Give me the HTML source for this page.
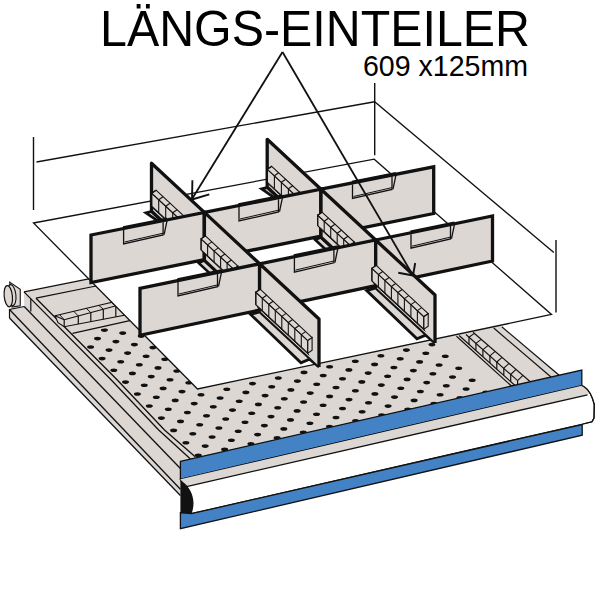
<!DOCTYPE html>
<html><head><meta charset="utf-8"><style>html,body{margin:0;padding:0;background:#fff;}svg{display:block;}</style></head>
<body><svg width="600" height="600" viewBox="0 0 600 600"><polygon points="9.5,318.0 9.5,309.5 24.2,306.5 24.0,291.9 200.0,256.0 480.0,300.0 501.8,326.8 566.0,380.0 182.0,470.0 182.0,496.0 180.4,495.5" fill="#ddd7d4" stroke="none"/>
<defs><clipPath id="fl"><polygon points="78.6,340.0 84.0,332.0 150.0,320.0 197.5,389.0 430.0,340.0 476.0,378.0 495.0,398.0 204.8,470.0"/></clipPath></defs>
<g fill="#111" clip-path="url(#fl)"><ellipse cx="104.4" cy="330.1" rx="3.5" ry="1.8"/><ellipse cx="97.5" cy="338.6" rx="3.5" ry="1.8"/><ellipse cx="90.6" cy="347.0" rx="3.5" ry="1.8"/><ellipse cx="122.7" cy="333.1" rx="3.5" ry="1.8"/><ellipse cx="115.9" cy="341.6" rx="3.5" ry="1.8"/><ellipse cx="109.0" cy="350.1" rx="3.5" ry="1.8"/><ellipse cx="102.1" cy="358.6" rx="3.5" ry="1.8"/><ellipse cx="147.9" cy="327.7" rx="3.5" ry="1.8"/><ellipse cx="141.2" cy="336.1" rx="3.5" ry="1.8"/><ellipse cx="134.4" cy="344.6" rx="3.5" ry="1.8"/><ellipse cx="127.6" cy="353.1" rx="3.5" ry="1.8"/><ellipse cx="120.7" cy="361.7" rx="3.5" ry="1.8"/><ellipse cx="113.8" cy="370.3" rx="3.5" ry="1.8"/><ellipse cx="152.9" cy="347.6" rx="3.5" ry="1.8"/><ellipse cx="146.1" cy="356.2" rx="3.5" ry="1.8"/><ellipse cx="139.3" cy="364.8" rx="3.5" ry="1.8"/><ellipse cx="132.4" cy="373.4" rx="3.5" ry="1.8"/><ellipse cx="125.5" cy="382.1" rx="3.5" ry="1.8"/><ellipse cx="164.8" cy="359.3" rx="3.5" ry="1.8"/><ellipse cx="158.0" cy="367.9" rx="3.5" ry="1.8"/><ellipse cx="151.2" cy="376.6" rx="3.5" ry="1.8"/><ellipse cx="144.3" cy="385.3" rx="3.5" ry="1.8"/><ellipse cx="137.4" cy="394.0" rx="3.5" ry="1.8"/><ellipse cx="176.8" cy="371.0" rx="3.5" ry="1.8"/><ellipse cx="170.0" cy="379.7" rx="3.5" ry="1.8"/><ellipse cx="163.1" cy="388.4" rx="3.5" ry="1.8"/><ellipse cx="156.3" cy="397.2" rx="3.5" ry="1.8"/><ellipse cx="149.3" cy="406.0" rx="3.5" ry="1.8"/><ellipse cx="188.8" cy="382.8" rx="3.5" ry="1.8"/><ellipse cx="182.0" cy="391.6" rx="3.5" ry="1.8"/><ellipse cx="175.2" cy="400.4" rx="3.5" ry="1.8"/><ellipse cx="168.3" cy="409.3" rx="3.5" ry="1.8"/><ellipse cx="161.4" cy="418.1" rx="3.5" ry="1.8"/><ellipse cx="201.0" cy="394.8" rx="3.5" ry="1.8"/><ellipse cx="194.2" cy="403.6" rx="3.5" ry="1.8"/><ellipse cx="187.4" cy="412.5" rx="3.5" ry="1.8"/><ellipse cx="180.5" cy="421.4" rx="3.5" ry="1.8"/><ellipse cx="173.6" cy="430.4" rx="3.5" ry="1.8"/><ellipse cx="226.8" cy="389.2" rx="3.5" ry="1.8"/><ellipse cx="220.1" cy="398.0" rx="3.5" ry="1.8"/><ellipse cx="213.3" cy="406.8" rx="3.5" ry="1.8"/><ellipse cx="206.5" cy="415.7" rx="3.5" ry="1.8"/><ellipse cx="199.7" cy="424.7" rx="3.5" ry="1.8"/><ellipse cx="192.8" cy="433.7" rx="3.5" ry="1.8"/><ellipse cx="185.9" cy="442.7" rx="3.5" ry="1.8"/><ellipse cx="252.5" cy="383.6" rx="3.5" ry="1.8"/><ellipse cx="245.9" cy="392.4" rx="3.5" ry="1.8"/><ellipse cx="239.2" cy="401.2" rx="3.5" ry="1.8"/><ellipse cx="232.5" cy="410.1" rx="3.5" ry="1.8"/><ellipse cx="225.7" cy="419.0" rx="3.5" ry="1.8"/><ellipse cx="218.9" cy="428.0" rx="3.5" ry="1.8"/><ellipse cx="212.1" cy="437.0" rx="3.5" ry="1.8"/><ellipse cx="205.2" cy="446.1" rx="3.5" ry="1.8"/><ellipse cx="198.3" cy="455.2" rx="3.5" ry="1.8"/><ellipse cx="278.3" cy="378.0" rx="3.5" ry="1.8"/><ellipse cx="271.7" cy="386.8" rx="3.5" ry="1.8"/><ellipse cx="265.1" cy="395.6" rx="3.5" ry="1.8"/><ellipse cx="258.4" cy="404.4" rx="3.5" ry="1.8"/><ellipse cx="251.7" cy="413.3" rx="3.5" ry="1.8"/><ellipse cx="245.0" cy="422.3" rx="3.5" ry="1.8"/><ellipse cx="238.2" cy="431.3" rx="3.5" ry="1.8"/><ellipse cx="231.4" cy="440.3" rx="3.5" ry="1.8"/><ellipse cx="224.6" cy="449.4" rx="3.5" ry="1.8"/><ellipse cx="217.7" cy="458.6" rx="3.5" ry="1.8"/><ellipse cx="304.0" cy="372.4" rx="3.5" ry="1.8"/><ellipse cx="297.4" cy="381.1" rx="3.5" ry="1.8"/><ellipse cx="290.9" cy="389.9" rx="3.5" ry="1.8"/><ellipse cx="284.3" cy="398.8" rx="3.5" ry="1.8"/><ellipse cx="277.7" cy="407.7" rx="3.5" ry="1.8"/><ellipse cx="271.0" cy="416.6" rx="3.5" ry="1.8"/><ellipse cx="264.4" cy="425.6" rx="3.5" ry="1.8"/><ellipse cx="257.6" cy="434.6" rx="3.5" ry="1.8"/><ellipse cx="250.9" cy="443.7" rx="3.5" ry="1.8"/><ellipse cx="244.1" cy="452.8" rx="3.5" ry="1.8"/><ellipse cx="329.6" cy="366.8" rx="3.5" ry="1.8"/><ellipse cx="323.2" cy="375.5" rx="3.5" ry="1.8"/><ellipse cx="316.7" cy="384.3" rx="3.5" ry="1.8"/><ellipse cx="310.2" cy="393.1" rx="3.5" ry="1.8"/><ellipse cx="303.6" cy="402.0" rx="3.5" ry="1.8"/><ellipse cx="297.1" cy="410.9" rx="3.5" ry="1.8"/><ellipse cx="290.5" cy="419.9" rx="3.5" ry="1.8"/><ellipse cx="283.8" cy="428.9" rx="3.5" ry="1.8"/><ellipse cx="277.1" cy="437.9" rx="3.5" ry="1.8"/><ellipse cx="270.4" cy="447.0" rx="3.5" ry="1.8"/><ellipse cx="355.3" cy="361.2" rx="3.5" ry="1.8"/><ellipse cx="348.9" cy="369.9" rx="3.5" ry="1.8"/><ellipse cx="342.5" cy="378.7" rx="3.5" ry="1.8"/><ellipse cx="336.0" cy="387.5" rx="3.5" ry="1.8"/><ellipse cx="329.6" cy="396.4" rx="3.5" ry="1.8"/><ellipse cx="323.1" cy="405.2" rx="3.5" ry="1.8"/><ellipse cx="316.5" cy="414.2" rx="3.5" ry="1.8"/><ellipse cx="309.9" cy="423.2" rx="3.5" ry="1.8"/><ellipse cx="303.3" cy="432.2" rx="3.5" ry="1.8"/><ellipse cx="296.7" cy="441.3" rx="3.5" ry="1.8"/><ellipse cx="380.9" cy="355.7" rx="3.5" ry="1.8"/><ellipse cx="374.6" cy="364.4" rx="3.5" ry="1.8"/><ellipse cx="368.2" cy="373.1" rx="3.5" ry="1.8"/><ellipse cx="361.8" cy="381.9" rx="3.5" ry="1.8"/><ellipse cx="355.4" cy="390.7" rx="3.5" ry="1.8"/><ellipse cx="349.0" cy="399.6" rx="3.5" ry="1.8"/><ellipse cx="342.5" cy="408.5" rx="3.5" ry="1.8"/><ellipse cx="336.0" cy="417.5" rx="3.5" ry="1.8"/><ellipse cx="329.5" cy="426.5" rx="3.5" ry="1.8"/><ellipse cx="322.9" cy="435.5" rx="3.5" ry="1.8"/><ellipse cx="406.4" cy="350.1" rx="3.5" ry="1.8"/><ellipse cx="400.2" cy="358.8" rx="3.5" ry="1.8"/><ellipse cx="393.9" cy="367.5" rx="3.5" ry="1.8"/><ellipse cx="387.6" cy="376.3" rx="3.5" ry="1.8"/><ellipse cx="381.3" cy="385.1" rx="3.5" ry="1.8"/><ellipse cx="374.9" cy="393.9" rx="3.5" ry="1.8"/><ellipse cx="368.5" cy="402.8" rx="3.5" ry="1.8"/><ellipse cx="362.1" cy="411.8" rx="3.5" ry="1.8"/><ellipse cx="355.6" cy="420.8" rx="3.5" ry="1.8"/><ellipse cx="349.1" cy="429.8" rx="3.5" ry="1.8"/><ellipse cx="432.0" cy="344.6" rx="3.5" ry="1.8"/><ellipse cx="425.8" cy="353.2" rx="3.5" ry="1.8"/><ellipse cx="419.6" cy="361.9" rx="3.5" ry="1.8"/><ellipse cx="413.4" cy="370.6" rx="3.5" ry="1.8"/><ellipse cx="407.1" cy="379.4" rx="3.5" ry="1.8"/><ellipse cx="400.8" cy="388.3" rx="3.5" ry="1.8"/><ellipse cx="394.5" cy="397.1" rx="3.5" ry="1.8"/><ellipse cx="388.1" cy="406.1" rx="3.5" ry="1.8"/><ellipse cx="381.7" cy="415.0" rx="3.5" ry="1.8"/><ellipse cx="375.3" cy="424.1" rx="3.5" ry="1.8"/><ellipse cx="445.3" cy="356.3" rx="3.5" ry="1.8"/><ellipse cx="439.1" cy="365.0" rx="3.5" ry="1.8"/><ellipse cx="432.9" cy="373.8" rx="3.5" ry="1.8"/><ellipse cx="426.7" cy="382.6" rx="3.5" ry="1.8"/><ellipse cx="420.4" cy="391.5" rx="3.5" ry="1.8"/><ellipse cx="414.1" cy="400.4" rx="3.5" ry="1.8"/><ellipse cx="407.8" cy="409.3" rx="3.5" ry="1.8"/><ellipse cx="401.5" cy="418.3" rx="3.5" ry="1.8"/><ellipse cx="458.7" cy="368.2" rx="3.5" ry="1.8"/><ellipse cx="452.5" cy="377.0" rx="3.5" ry="1.8"/><ellipse cx="446.3" cy="385.8" rx="3.5" ry="1.8"/><ellipse cx="440.1" cy="394.7" rx="3.5" ry="1.8"/><ellipse cx="433.9" cy="403.6" rx="3.5" ry="1.8"/><ellipse cx="427.6" cy="412.6" rx="3.5" ry="1.8"/><ellipse cx="472.2" cy="380.2" rx="3.5" ry="1.8"/><ellipse cx="466.1" cy="389.0" rx="3.5" ry="1.8"/><ellipse cx="459.9" cy="397.9" rx="3.5" ry="1.8"/><ellipse cx="485.9" cy="392.3" rx="3.5" ry="1.8"/></g>
<line x1="9.5" y1="318.0" x2="180.4" y2="495.5" stroke="#111" stroke-width="1.3"/>
<line x1="9.5" y1="309.5" x2="180.4" y2="489.2" stroke="#111" stroke-width="1.3"/>
<line x1="24.2" y1="306.5" x2="180.4" y2="468.5" stroke="#111" stroke-width="1.3"/>
<polyline points="24.0,291.9 111.3,380.0 158.7,430.0 191.0,459.5" fill="none" stroke="#111" stroke-width="1.3" stroke-linejoin="miter"/>
<polyline points="36.0,298.2 117.3,380.0 164.5,430.0 195.5,457.0" fill="none" stroke="#111" stroke-width="1.3" stroke-linejoin="miter"/>
<polyline points="9.5,318.0 9.5,309.5 24.2,306.5" fill="none" stroke="#111" stroke-width="1.2" stroke-linejoin="miter"/>
<line x1="24.0" y1="291.9" x2="90.0" y2="278.7" stroke="#111" stroke-width="1.2"/>
<line x1="36.0" y1="298.2" x2="96.0" y2="286.0" stroke="#111" stroke-width="1.2"/>
<line x1="30.8" y1="299.0" x2="30.8" y2="311.5" stroke="#111" stroke-width="1.2"/>
<polygon points="55.0,315.8 145.0,294.4 145.0,311.3 64.2,326.7 58.0,322.7" fill="#ddd7d4" stroke="#111" stroke-width="1.1" stroke-linejoin="miter"/>
<line x1="64.2" y1="319.8" x2="145.0" y2="298.0" stroke="#111" stroke-width="1.1"/>
<line x1="55.0" y1="315.8" x2="64.2" y2="319.8" stroke="#111" stroke-width="1.1"/>
<line x1="64.2" y1="319.8" x2="64.2" y2="326.7" stroke="#111" stroke-width="1.2"/>
<line x1="64.2" y1="319.8" x2="59.7" y2="314.7" stroke="#111" stroke-width="1.0"/>
<line x1="78.3" y1="316.0" x2="78.3" y2="324.0" stroke="#111" stroke-width="1.2"/>
<line x1="78.3" y1="316.0" x2="73.8" y2="311.3" stroke="#111" stroke-width="1.0"/>
<line x1="90.8" y1="312.6" x2="90.8" y2="321.6" stroke="#111" stroke-width="1.2"/>
<line x1="90.8" y1="312.6" x2="86.3" y2="308.4" stroke="#111" stroke-width="1.0"/>
<line x1="103.3" y1="309.2" x2="103.3" y2="319.3" stroke="#111" stroke-width="1.2"/>
<line x1="103.3" y1="309.2" x2="98.8" y2="305.4" stroke="#111" stroke-width="1.0"/>
<line x1="115.8" y1="305.9" x2="115.8" y2="316.9" stroke="#111" stroke-width="1.2"/>
<line x1="115.8" y1="305.9" x2="111.3" y2="302.4" stroke="#111" stroke-width="1.0"/>
<line x1="128.3" y1="302.5" x2="128.3" y2="314.5" stroke="#111" stroke-width="1.2"/>
<line x1="128.3" y1="302.5" x2="123.8" y2="299.4" stroke="#111" stroke-width="1.0"/>
<line x1="72.5" y1="333.3" x2="150.0" y2="316.2" stroke="#111" stroke-width="1.2"/>
<path d="M9.75,282.1 L20.25,289.25 L20.25,305.75 L12,307 Z" fill="#ddd7d4" stroke="#111" stroke-width="1.1"/>
<ellipse cx="11.6" cy="295.2" rx="4.3" ry="10.6" fill="#ddd7d4" stroke="#111" stroke-width="1.1" transform="rotate(-6 11.6 295.2)"/>
<ellipse cx="8.3" cy="296.2" rx="4.1" ry="10.7" fill="#ddd7d4" stroke="#111" stroke-width="1.2" transform="rotate(-6 8.3 296.2)"/>
<line x1="456.5" y1="336.2" x2="512.0" y2="386.5" stroke="#111" stroke-width="1.2"/>
<line x1="459.1" y1="335.5" x2="515.0" y2="385.5" stroke="#111" stroke-width="1.2"/>
<line x1="473.0" y1="332.3" x2="530.0" y2="381.5" stroke="#111" stroke-width="1.2"/>
<line x1="493.7" y1="328.0" x2="551.0" y2="377.0" stroke="#111" stroke-width="1.2"/>
<line x1="501.8" y1="326.8" x2="560.0" y2="376.0" stroke="#111" stroke-width="1.2"/>
<line x1="469.0" y1="337.2" x2="469.0" y2="344.4" stroke="#111" stroke-width="1.2"/>
<line x1="469.0" y1="337.2" x2="474.3" y2="333.4" stroke="#111" stroke-width="1.1"/>
<line x1="475.9" y1="343.4" x2="475.9" y2="350.6" stroke="#111" stroke-width="1.2"/>
<line x1="475.9" y1="343.4" x2="481.2" y2="339.4" stroke="#111" stroke-width="1.1"/>
<line x1="482.9" y1="349.6" x2="482.9" y2="356.8" stroke="#111" stroke-width="1.2"/>
<line x1="482.9" y1="349.6" x2="488.2" y2="345.4" stroke="#111" stroke-width="1.1"/>
<line x1="489.9" y1="355.8" x2="489.9" y2="363.0" stroke="#111" stroke-width="1.2"/>
<line x1="489.9" y1="355.8" x2="495.2" y2="351.4" stroke="#111" stroke-width="1.1"/>
<line x1="496.8" y1="362.0" x2="496.8" y2="369.2" stroke="#111" stroke-width="1.2"/>
<line x1="496.8" y1="362.0" x2="502.1" y2="357.4" stroke="#111" stroke-width="1.1"/>
<line x1="503.8" y1="368.2" x2="503.8" y2="375.4" stroke="#111" stroke-width="1.2"/>
<line x1="503.8" y1="368.2" x2="509.1" y2="363.4" stroke="#111" stroke-width="1.1"/>
<line x1="510.7" y1="374.5" x2="510.7" y2="381.7" stroke="#111" stroke-width="1.2"/>
<line x1="510.7" y1="374.5" x2="516.0" y2="369.4" stroke="#111" stroke-width="1.1"/>
<line x1="517.6" y1="380.7" x2="517.6" y2="387.9" stroke="#111" stroke-width="1.2"/>
<line x1="517.6" y1="380.7" x2="522.9" y2="375.4" stroke="#111" stroke-width="1.1"/>
<line x1="466.0" y1="334.5" x2="517.6" y2="380.7" stroke="#111" stroke-width="1.1"/>
<polygon points="33.5,223.0 374.2,159.2 551.5,314.5 197.5,389.0" fill="#fff" stroke="#111" stroke-width="1.3" stroke-linejoin="miter"/>
<polygon points="180.4,461.3 581.8,370.0 581.8,385.8 180.4,479.3" fill="#4482c6" stroke="#111" stroke-width="1.3" stroke-linejoin="miter"/>
<path d="M180.4,479.3 L581.8,385.75 L583.75,386.5 Q591,391 594.25,404.5 L594,418 L592,421.75 L583,424 L191.3,513.7 L183.3,487.3 Z" fill="#fff" stroke="#111" stroke-width="1.2"/>
<polygon points="180.4,479.3 581.8,385.8 583.8,386.5 589.0,392.5 587.5,394.8 183.3,487.3" fill="#ddd7d4" stroke="none"/>
<line x1="183.3" y1="487.3" x2="587.5" y2="394.8" stroke="#111" stroke-width="1.3"/>
<path d="M581.8,385.75 L583.75,386.5 Q591,391 594.25,404.5 L594,418 L592,421.75 L583,424" fill="none" stroke="#111" stroke-width="1.2"/>
<polygon points="180.4,512.7 191.3,513.7 582.2,424.5 582.2,435.2 180.4,528.7" fill="#4482c6" stroke="#111" stroke-width="1.3" stroke-linejoin="miter"/>
<path d="M180.4,479.5 L183.5,482.5 C192,489 196.5,502 191.3,514 L180.4,513 Z" fill="#111"/>
<line x1="33.5" y1="137.0" x2="33.5" y2="210.0" stroke="#111" stroke-width="1.4"/>
<line x1="36.5" y1="162.0" x2="374.7" y2="101.7" stroke="#111" stroke-width="1.4"/>
<line x1="374.7" y1="83.0" x2="374.7" y2="155.3" stroke="#111" stroke-width="1.4"/>
<line x1="374.7" y1="101.7" x2="553.8" y2="252.5" stroke="#111" stroke-width="1.4"/>
<line x1="556.0" y1="240.0" x2="556.0" y2="312.5" stroke="#111" stroke-width="1.4"/>
<polygon points="146.0,212.8 152.5,211.2 169.5,220.7 162.5,224.2" fill="#ddd7d4" stroke="#111" stroke-width="2.8" stroke-linejoin="miter"/>
<polygon points="151.5,163.2 204.4,212.4 204.4,260.4 151.5,211.2" fill="#ddd7d4" stroke="#111" stroke-width="3.3" stroke-linejoin="round"/>
<polygon points="151.7,193.2 179.7,219.2 179.7,232.2 151.7,206.2" fill="#ddd7d4" stroke="#111" stroke-width="1.1" stroke-linejoin="miter"/>
<polygon points="156.0,190.2 184.0,216.2 179.7,219.2 151.7,193.2" fill="#ddd7d4" stroke="#111" stroke-width="1.1" stroke-linejoin="miter"/>
<line x1="151.7" y1="193.2" x2="151.7" y2="206.2" stroke="#111" stroke-width="1.1"/>
<line x1="156.0" y1="190.2" x2="151.7" y2="193.2" stroke="#111" stroke-width="1.1"/>
<line x1="158.7" y1="199.7" x2="158.7" y2="212.7" stroke="#111" stroke-width="1.1"/>
<line x1="163.0" y1="196.7" x2="158.7" y2="199.7" stroke="#111" stroke-width="1.1"/>
<line x1="165.7" y1="206.2" x2="165.7" y2="219.2" stroke="#111" stroke-width="1.1"/>
<line x1="170.0" y1="203.2" x2="165.7" y2="206.2" stroke="#111" stroke-width="1.1"/>
<line x1="172.7" y1="212.7" x2="172.7" y2="225.7" stroke="#111" stroke-width="1.1"/>
<line x1="177.0" y1="209.7" x2="172.7" y2="212.7" stroke="#111" stroke-width="1.1"/>
<line x1="179.7" y1="219.2" x2="179.7" y2="232.2" stroke="#111" stroke-width="1.1"/>
<line x1="184.0" y1="216.2" x2="179.7" y2="219.2" stroke="#111" stroke-width="1.1"/>
<polygon points="179.7,219.2 184.0,216.2 184.0,229.2 179.7,232.2" fill="#ddd7d4" stroke="#111" stroke-width="1.1" stroke-linejoin="miter"/>
<line x1="153.2" y1="208.4" x2="181.2" y2="234.4" stroke="#111" stroke-width="1.0"/>
<polygon points="261.7,188.9 268.2,187.3 285.2,196.8 278.2,200.3" fill="#ddd7d4" stroke="#111" stroke-width="2.8" stroke-linejoin="miter"/>
<polygon points="267.2,139.3 321.0,189.2 321.0,237.2 267.2,187.3" fill="#ddd7d4" stroke="#111" stroke-width="3.3" stroke-linejoin="round"/>
<polygon points="267.4,169.3 295.4,195.3 295.4,208.3 267.4,182.3" fill="#ddd7d4" stroke="#111" stroke-width="1.1" stroke-linejoin="miter"/>
<polygon points="271.7,166.3 299.7,192.3 295.4,195.3 267.4,169.3" fill="#ddd7d4" stroke="#111" stroke-width="1.1" stroke-linejoin="miter"/>
<line x1="267.4" y1="169.3" x2="267.4" y2="182.3" stroke="#111" stroke-width="1.1"/>
<line x1="271.7" y1="166.3" x2="267.4" y2="169.3" stroke="#111" stroke-width="1.1"/>
<line x1="274.4" y1="175.8" x2="274.4" y2="188.8" stroke="#111" stroke-width="1.1"/>
<line x1="278.7" y1="172.8" x2="274.4" y2="175.8" stroke="#111" stroke-width="1.1"/>
<line x1="281.4" y1="182.3" x2="281.4" y2="195.3" stroke="#111" stroke-width="1.1"/>
<line x1="285.7" y1="179.3" x2="281.4" y2="182.3" stroke="#111" stroke-width="1.1"/>
<line x1="288.4" y1="188.8" x2="288.4" y2="201.8" stroke="#111" stroke-width="1.1"/>
<line x1="292.7" y1="185.8" x2="288.4" y2="188.8" stroke="#111" stroke-width="1.1"/>
<line x1="295.4" y1="195.3" x2="295.4" y2="208.3" stroke="#111" stroke-width="1.1"/>
<line x1="299.7" y1="192.3" x2="295.4" y2="195.3" stroke="#111" stroke-width="1.1"/>
<polygon points="295.4,195.3 299.7,192.3 299.7,205.3 295.4,208.3" fill="#ddd7d4" stroke="#111" stroke-width="1.1" stroke-linejoin="miter"/>
<line x1="268.9" y1="184.5" x2="296.9" y2="210.5" stroke="#111" stroke-width="1.0"/>
<polygon points="91.0,235.0 204.4,212.4 204.4,259.7 91.0,282.5" fill="#ddd7d4" stroke="#111" stroke-width="3.3" stroke-linejoin="miter"/>
<line x1="123.1" y1="227.8" x2="167.1" y2="219.1" stroke="#111" stroke-width="3.2"/>
<polyline points="123.6,230.0 123.6,244.0 163.1,235.0 163.1,222.2" fill="none" stroke="#111" stroke-width="1.3" stroke-linejoin="miter"/>
<polyline points="124.6,242.0 163.1,233.2" fill="none" stroke="#111" stroke-width="1.0" stroke-linejoin="miter"/>
<polyline points="167.1,220.4 164.1,234.7" fill="none" stroke="#111" stroke-width="1.3" stroke-linejoin="miter"/>
<polygon points="204.4,212.4 321.0,189.2 321.0,236.2 204.4,259.7" fill="#ddd7d4" stroke="#111" stroke-width="3.3" stroke-linejoin="miter"/>
<line x1="238.5" y1="204.8" x2="282.5" y2="196.1" stroke="#111" stroke-width="3.2"/>
<polyline points="239.0,207.0 239.0,221.0 278.5,212.0 278.5,199.2" fill="none" stroke="#111" stroke-width="1.3" stroke-linejoin="miter"/>
<polyline points="240.0,219.0 278.5,210.2" fill="none" stroke="#111" stroke-width="1.0" stroke-linejoin="miter"/>
<polyline points="282.5,197.4 279.5,211.7" fill="none" stroke="#111" stroke-width="1.3" stroke-linejoin="miter"/>
<polygon points="321.0,189.2 433.7,166.8 433.7,213.5 321.0,236.2" fill="#ddd7d4" stroke="#111" stroke-width="3.3" stroke-linejoin="miter"/>
<line x1="352.0" y1="182.3" x2="396.0" y2="173.5" stroke="#111" stroke-width="3.2"/>
<polyline points="352.5,184.5 352.5,198.5 392.0,189.4 392.0,176.6" fill="none" stroke="#111" stroke-width="1.3" stroke-linejoin="miter"/>
<polyline points="353.5,196.5 392.0,187.6" fill="none" stroke="#111" stroke-width="1.0" stroke-linejoin="miter"/>
<polyline points="396.0,174.8 393.0,189.1" fill="none" stroke="#111" stroke-width="1.3" stroke-linejoin="miter"/>
<polygon points="204.4,260.4 259.6,311.8 253.8,314.4 198.6,263.0" fill="#ddd7d4" stroke="#111" stroke-width="2.6" stroke-linejoin="miter"/>
<polygon points="204.4,212.4 259.6,263.8 259.6,311.8 204.4,260.4" fill="#ddd7d4" stroke="#111" stroke-width="3.3" stroke-linejoin="round"/>
<polygon points="201.1,238.9 233.6,269.1 233.6,280.1 201.1,249.9" fill="#ddd7d4" stroke="#111" stroke-width="1.1" stroke-linejoin="miter"/>
<polygon points="205.4,235.9 237.9,266.1 233.6,269.1 201.1,238.9" fill="#ddd7d4" stroke="#111" stroke-width="1.1" stroke-linejoin="miter"/>
<line x1="201.1" y1="238.9" x2="201.1" y2="249.9" stroke="#111" stroke-width="1.1"/>
<line x1="205.4" y1="235.9" x2="201.1" y2="238.9" stroke="#111" stroke-width="1.1"/>
<line x1="207.6" y1="244.9" x2="207.6" y2="255.9" stroke="#111" stroke-width="1.1"/>
<line x1="211.9" y1="241.9" x2="207.6" y2="244.9" stroke="#111" stroke-width="1.1"/>
<line x1="214.1" y1="250.9" x2="214.1" y2="261.9" stroke="#111" stroke-width="1.1"/>
<line x1="218.4" y1="247.9" x2="214.1" y2="250.9" stroke="#111" stroke-width="1.1"/>
<line x1="220.6" y1="257.0" x2="220.6" y2="268.0" stroke="#111" stroke-width="1.1"/>
<line x1="224.9" y1="254.0" x2="220.6" y2="257.0" stroke="#111" stroke-width="1.1"/>
<line x1="227.1" y1="263.0" x2="227.1" y2="274.0" stroke="#111" stroke-width="1.1"/>
<line x1="231.4" y1="260.0" x2="227.1" y2="263.0" stroke="#111" stroke-width="1.1"/>
<line x1="233.6" y1="269.1" x2="233.6" y2="280.1" stroke="#111" stroke-width="1.1"/>
<line x1="237.9" y1="266.1" x2="233.6" y2="269.1" stroke="#111" stroke-width="1.1"/>
<polygon points="233.6,269.1 237.9,266.1 237.9,277.1 233.6,280.1" fill="#ddd7d4" stroke="#111" stroke-width="1.1" stroke-linejoin="miter"/>
<line x1="202.6" y1="252.1" x2="235.1" y2="282.3" stroke="#111" stroke-width="1.0"/>
<polygon points="321.0,237.2 375.7,288.0 369.9,290.6 315.2,239.8" fill="#ddd7d4" stroke="#111" stroke-width="2.6" stroke-linejoin="miter"/>
<polygon points="321.0,189.2 375.7,240.0 375.7,288.0 321.0,237.2" fill="#ddd7d4" stroke="#111" stroke-width="3.3" stroke-linejoin="round"/>
<polygon points="317.7,215.2 350.2,245.3 350.2,255.8 317.7,225.7" fill="#ddd7d4" stroke="#111" stroke-width="1.1" stroke-linejoin="miter"/>
<polygon points="322.0,212.2 354.5,242.3 350.2,245.3 317.7,215.2" fill="#ddd7d4" stroke="#111" stroke-width="1.1" stroke-linejoin="miter"/>
<line x1="317.7" y1="215.2" x2="317.7" y2="225.7" stroke="#111" stroke-width="1.1"/>
<line x1="322.0" y1="212.2" x2="317.7" y2="215.2" stroke="#111" stroke-width="1.1"/>
<line x1="324.2" y1="221.2" x2="324.2" y2="231.7" stroke="#111" stroke-width="1.1"/>
<line x1="328.5" y1="218.2" x2="324.2" y2="221.2" stroke="#111" stroke-width="1.1"/>
<line x1="330.7" y1="227.2" x2="330.7" y2="237.7" stroke="#111" stroke-width="1.1"/>
<line x1="335.0" y1="224.2" x2="330.7" y2="227.2" stroke="#111" stroke-width="1.1"/>
<line x1="337.2" y1="233.2" x2="337.2" y2="243.7" stroke="#111" stroke-width="1.1"/>
<line x1="341.5" y1="230.2" x2="337.2" y2="233.2" stroke="#111" stroke-width="1.1"/>
<line x1="343.7" y1="239.3" x2="343.7" y2="249.8" stroke="#111" stroke-width="1.1"/>
<line x1="348.0" y1="236.3" x2="343.7" y2="239.3" stroke="#111" stroke-width="1.1"/>
<line x1="350.2" y1="245.3" x2="350.2" y2="255.8" stroke="#111" stroke-width="1.1"/>
<line x1="354.5" y1="242.3" x2="350.2" y2="245.3" stroke="#111" stroke-width="1.1"/>
<polygon points="350.2,245.3 354.5,242.3 354.5,252.8 350.2,255.8" fill="#ddd7d4" stroke="#111" stroke-width="1.1" stroke-linejoin="miter"/>
<line x1="319.2" y1="227.9" x2="351.7" y2="258.0" stroke="#111" stroke-width="1.0"/>
<polygon points="140.0,288.3 259.6,263.8 259.6,310.1 140.0,335.3" fill="#ddd7d4" stroke="#111" stroke-width="3.3" stroke-linejoin="miter"/>
<line x1="177.5" y1="279.8" x2="221.5" y2="270.8" stroke="#111" stroke-width="3.2"/>
<polyline points="178.0,282.0 178.0,296.0 217.5,286.7 217.5,273.9" fill="none" stroke="#111" stroke-width="1.3" stroke-linejoin="miter"/>
<polyline points="179.0,294.0 217.5,284.9" fill="none" stroke="#111" stroke-width="1.0" stroke-linejoin="miter"/>
<polyline points="221.5,272.1 218.5,286.4" fill="none" stroke="#111" stroke-width="1.3" stroke-linejoin="miter"/>
<polygon points="259.6,263.8 375.7,240.0 375.7,285.6 259.6,310.1" fill="#ddd7d4" stroke="#111" stroke-width="3.3" stroke-linejoin="miter"/>
<line x1="293.9" y1="255.9" x2="337.9" y2="246.9" stroke="#111" stroke-width="3.2"/>
<polyline points="294.4,258.1 294.4,272.1 333.9,262.8 333.9,250.0" fill="none" stroke="#111" stroke-width="1.3" stroke-linejoin="miter"/>
<polyline points="295.4,270.1 333.9,261.0" fill="none" stroke="#111" stroke-width="1.0" stroke-linejoin="miter"/>
<polyline points="337.9,248.2 334.9,262.5" fill="none" stroke="#111" stroke-width="1.3" stroke-linejoin="miter"/>
<polygon points="375.7,240.0 492.5,216.0 492.5,261.0 375.7,285.6" fill="#ddd7d4" stroke="#111" stroke-width="3.3" stroke-linejoin="miter"/>
<line x1="410.5" y1="232.0" x2="454.5" y2="223.0" stroke="#111" stroke-width="3.2"/>
<polyline points="411.0,234.2 411.0,248.2 450.5,238.9 450.5,226.1" fill="none" stroke="#111" stroke-width="1.3" stroke-linejoin="miter"/>
<polyline points="412.0,246.2 450.5,237.1" fill="none" stroke="#111" stroke-width="1.0" stroke-linejoin="miter"/>
<polyline points="454.5,224.3 451.5,238.6" fill="none" stroke="#111" stroke-width="1.3" stroke-linejoin="miter"/>
<polygon points="259.6,311.8 250.6,314.4 301.0,362.8 309.5,359.2 319.0,367.0" fill="#ddd7d4" stroke="#111" stroke-width="2.8" stroke-linejoin="miter"/>
<polygon points="259.6,263.8 319.0,319.0 319.0,367.0 259.6,311.8" fill="#ddd7d4" stroke="none"/>
<line x1="259.6" y1="311.8" x2="319.0" y2="367.0" stroke="#111" stroke-width="1.3"/>
<polyline points="259.6,311.8 259.6,263.8 319.0,319.0 319.0,367.0" fill="none" stroke="#111" stroke-width="3.3" stroke-linejoin="round"/>
<polygon points="255.8,292.2 307.8,340.6 307.8,353.1 255.8,304.7" fill="#ddd7d4" stroke="#111" stroke-width="1.1" stroke-linejoin="miter"/>
<polygon points="260.1,289.2 312.1,337.6 307.8,340.6 255.8,292.2" fill="#ddd7d4" stroke="#111" stroke-width="1.1" stroke-linejoin="miter"/>
<line x1="255.8" y1="292.2" x2="255.8" y2="304.7" stroke="#111" stroke-width="1.1"/>
<line x1="260.1" y1="289.2" x2="255.8" y2="292.2" stroke="#111" stroke-width="1.1"/>
<line x1="262.3" y1="298.3" x2="262.3" y2="310.8" stroke="#111" stroke-width="1.1"/>
<line x1="266.6" y1="295.3" x2="262.3" y2="298.3" stroke="#111" stroke-width="1.1"/>
<line x1="268.8" y1="304.3" x2="268.8" y2="316.8" stroke="#111" stroke-width="1.1"/>
<line x1="273.1" y1="301.3" x2="268.8" y2="304.3" stroke="#111" stroke-width="1.1"/>
<line x1="275.3" y1="310.4" x2="275.3" y2="322.9" stroke="#111" stroke-width="1.1"/>
<line x1="279.6" y1="307.4" x2="275.3" y2="310.4" stroke="#111" stroke-width="1.1"/>
<line x1="281.8" y1="316.4" x2="281.8" y2="328.9" stroke="#111" stroke-width="1.1"/>
<line x1="286.1" y1="313.4" x2="281.8" y2="316.4" stroke="#111" stroke-width="1.1"/>
<line x1="288.3" y1="322.5" x2="288.3" y2="335.0" stroke="#111" stroke-width="1.1"/>
<line x1="292.6" y1="319.5" x2="288.3" y2="322.5" stroke="#111" stroke-width="1.1"/>
<line x1="294.8" y1="328.5" x2="294.8" y2="341.0" stroke="#111" stroke-width="1.1"/>
<line x1="299.1" y1="325.5" x2="294.8" y2="328.5" stroke="#111" stroke-width="1.1"/>
<line x1="301.3" y1="334.6" x2="301.3" y2="347.1" stroke="#111" stroke-width="1.1"/>
<line x1="305.6" y1="331.6" x2="301.3" y2="334.6" stroke="#111" stroke-width="1.1"/>
<line x1="307.8" y1="340.6" x2="307.8" y2="353.1" stroke="#111" stroke-width="1.1"/>
<line x1="312.1" y1="337.6" x2="307.8" y2="340.6" stroke="#111" stroke-width="1.1"/>
<polygon points="307.8,340.6 312.1,337.6 312.1,350.1 307.8,353.1" fill="#ddd7d4" stroke="#111" stroke-width="1.1" stroke-linejoin="miter"/>
<line x1="257.3" y1="306.9" x2="309.3" y2="355.3" stroke="#111" stroke-width="1.0"/>
<polygon points="375.7,288.0 366.7,290.6 417.0,338.8 425.5,335.2 435.0,343.0" fill="#ddd7d4" stroke="#111" stroke-width="2.8" stroke-linejoin="miter"/>
<polygon points="375.7,240.0 435.0,295.0 435.0,343.0 375.7,288.0" fill="#ddd7d4" stroke="none"/>
<line x1="375.7" y1="288.0" x2="435.0" y2="343.0" stroke="#111" stroke-width="1.3"/>
<polyline points="375.7,288.0 375.7,240.0 435.0,295.0 435.0,343.0" fill="none" stroke="#111" stroke-width="3.3" stroke-linejoin="round"/>
<polygon points="371.9,268.4 423.9,316.7 423.9,329.2 371.9,280.9" fill="#ddd7d4" stroke="#111" stroke-width="1.1" stroke-linejoin="miter"/>
<polygon points="376.2,265.4 428.2,313.7 423.9,316.7 371.9,268.4" fill="#ddd7d4" stroke="#111" stroke-width="1.1" stroke-linejoin="miter"/>
<line x1="371.9" y1="268.4" x2="371.9" y2="280.9" stroke="#111" stroke-width="1.1"/>
<line x1="376.2" y1="265.4" x2="371.9" y2="268.4" stroke="#111" stroke-width="1.1"/>
<line x1="378.4" y1="274.5" x2="378.4" y2="287.0" stroke="#111" stroke-width="1.1"/>
<line x1="382.7" y1="271.5" x2="378.4" y2="274.5" stroke="#111" stroke-width="1.1"/>
<line x1="384.9" y1="280.5" x2="384.9" y2="293.0" stroke="#111" stroke-width="1.1"/>
<line x1="389.2" y1="277.5" x2="384.9" y2="280.5" stroke="#111" stroke-width="1.1"/>
<line x1="391.4" y1="286.5" x2="391.4" y2="299.0" stroke="#111" stroke-width="1.1"/>
<line x1="395.7" y1="283.5" x2="391.4" y2="286.5" stroke="#111" stroke-width="1.1"/>
<line x1="397.9" y1="292.5" x2="397.9" y2="305.0" stroke="#111" stroke-width="1.1"/>
<line x1="402.2" y1="289.5" x2="397.9" y2="292.5" stroke="#111" stroke-width="1.1"/>
<line x1="404.4" y1="298.6" x2="404.4" y2="311.1" stroke="#111" stroke-width="1.1"/>
<line x1="408.7" y1="295.6" x2="404.4" y2="298.6" stroke="#111" stroke-width="1.1"/>
<line x1="410.9" y1="304.6" x2="410.9" y2="317.1" stroke="#111" stroke-width="1.1"/>
<line x1="415.2" y1="301.6" x2="410.9" y2="304.6" stroke="#111" stroke-width="1.1"/>
<line x1="417.4" y1="310.6" x2="417.4" y2="323.1" stroke="#111" stroke-width="1.1"/>
<line x1="421.7" y1="307.6" x2="417.4" y2="310.6" stroke="#111" stroke-width="1.1"/>
<line x1="423.9" y1="316.7" x2="423.9" y2="329.2" stroke="#111" stroke-width="1.1"/>
<line x1="428.2" y1="313.7" x2="423.9" y2="316.7" stroke="#111" stroke-width="1.1"/>
<polygon points="423.9,316.7 428.2,313.7 428.2,326.2 423.9,329.2" fill="#ddd7d4" stroke="#111" stroke-width="1.1" stroke-linejoin="miter"/>
<line x1="373.4" y1="283.1" x2="425.4" y2="331.4" stroke="#111" stroke-width="1.0"/>
<text x='100' y='45.8' style="font-family:'Liberation Sans',sans-serif" font-size='50' textLength='430' lengthAdjust='spacingAndGlyphs' fill='#000'>LÄNGS-EINTEILER</text>
<text x='363' y='75.7' style="font-family:'Liberation Sans',sans-serif" font-size='29.3' textLength='165' lengthAdjust='spacingAndGlyphs' fill='#000'>609 x125mm</text>
<line x1="282.5" y1="52.0" x2="192.0" y2="199.0" stroke="#111" stroke-width="1.8"/>
<line x1="192.0" y1="199.5" x2="192.4" y2="180.3" stroke="#111" stroke-width="1.9"/>
<line x1="192.0" y1="199.5" x2="209.3" y2="194.3" stroke="#111" stroke-width="1.9"/>
<line x1="282.5" y1="52.0" x2="413.0" y2="275.5" stroke="#111" stroke-width="1.8"/>
<line x1="413.0" y1="275.5" x2="415.2" y2="263.0" stroke="#111" stroke-width="1.9"/>
<line x1="413.0" y1="275.5" x2="398.3" y2="272.7" stroke="#111" stroke-width="1.9"/></svg></body></html>
